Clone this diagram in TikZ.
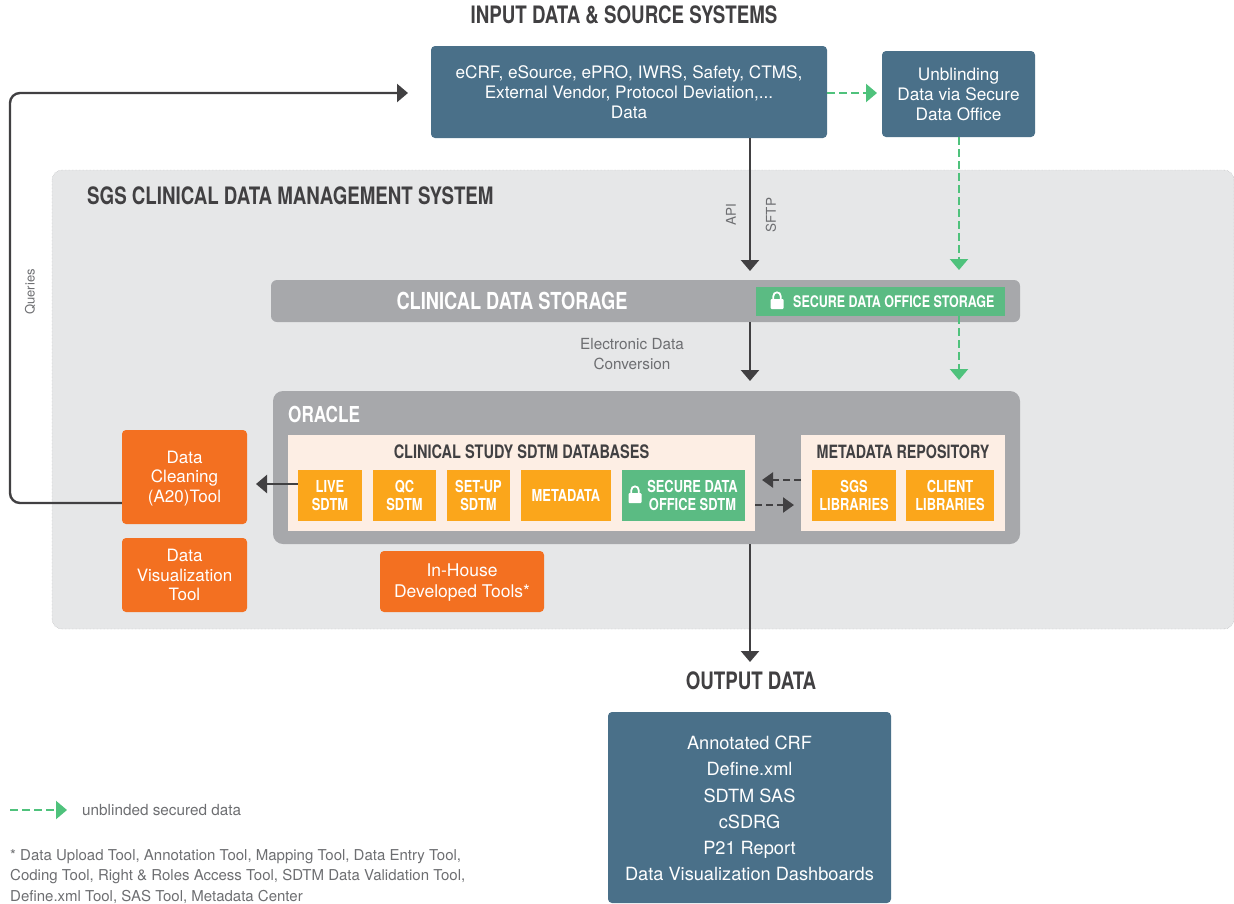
\documentclass[tikz,border=0pt]{standalone}
\usepackage{fontspec}
\setmainfont{TeX Gyre Heros}
\newfontfamily\condfont[FakeStretch=0.78]{TeX Gyre Heros}
\usetikzlibrary{arrows.meta, calc}
\definecolor{boxblue}{HTML}{4A7089}
\definecolor{tooloranje}{HTML}{F37021}
\definecolor{dbamber}{HTML}{FBA61B}
\definecolor{securegreen}{HTML}{5BBB83}
\definecolor{arrowgreen}{HTML}{4FC27C}
\definecolor{panelpeach}{HTML}{FDEEE4}
\definecolor{bandgrey}{HTML}{A7A8AB}
\definecolor{regiongrey}{HTML}{E6E7E8}
\definecolor{inkgrey}{HTML}{414042}
\definecolor{notegrey}{HTML}{6D6E71}
\tikzset{
  head/.style={font=\condfont\bfseries\fontsize{24}{26}\selectfont,text=inkgrey,inner sep=0pt},
  bluebox/.style={fill=boxblue,rounded corners=4pt,text=white,align=center,inner sep=0pt,font=\fontsize{17.2}{20}\selectfont},
  toolbox/.style={fill=tooloranje,rounded corners=4pt,text=white,align=center,inner sep=0pt,font=\fontsize{17}{19.5}\selectfont},
  dbbox/.style={fill=dbamber,text=white,align=center,inner sep=0pt,font=\condfont\bfseries\fontsize{16.5}{17.5}\selectfont},
  note/.style={text=notegrey,inner sep=0pt,font=\fontsize{15.3}{20}\selectfont},
  darkarrow/.style={draw=inkgrey,line width=2.4pt,-{Triangle[length=11pt,width=18pt]}},
  darkdash/.style={draw=inkgrey,line width=2.4pt,dash pattern=on 7pt off 4pt,-{Triangle[length=11pt,width=15pt]}},
  greenarrow/.style={draw=arrowgreen,line width=2.2pt,dash pattern=on 8pt off 4pt,-{Triangle[length=11pt,width=18pt]}},
  lockicon/.pic={
    \fill[white,rounded corners=1pt] (-6.5,-1) rectangle (6.5,9);
    \draw[white,line width=1.8pt] (-3.8,-1) -- (-3.8,-3.5) .. controls (-3.8,-9) and (3.8,-9) .. (3.8,-3.5) -- (3.8,-1);
  }
}
\begin{document}
\begin{tikzpicture}[x=1pt,y=-1pt]
  \useasboundingbox (0,0) rectangle (1234,903);
  % regions
  \path[fill=regiongrey,draw=bandgrey,densely dotted,rounded corners=10pt] (52,170) rectangle (1234,629);
  \node[head,anchor=west] (cdmstitle) at (87,196) {SGS CLINICAL DATA MANAGEMENT SYSTEM};
  \node[head] (inputtitle) at (624,15) {INPUT DATA \& SOURCE SYSTEMS};
  \node[head] (outputtitle) at (751,681) {OUTPUT DATA};
  % blue boxes
  \node[bluebox,minimum width=396pt,minimum height=92pt] (inputbox) at (629,92)
    {eCRF, eSource, ePRO, IWRS, Safety, CTMS,\\External Vendor, Protocol Deviation,...\\Data};
  \node[bluebox,minimum width=153pt,minimum height=86pt] (unblindbox) at (958.5,94)
    {Unblinding\\Data via Secure\\Data Office};
  \node[bluebox,minimum width=283pt,minimum height=191pt] (outputbox) at (749.5,807.5) {};
  \node[bluebox,fill=none,font=\fontsize{18.2}{26.3}\selectfont] (outputtext) at (749.5,808.5)
    {Annotated CRF\\Define.xml\\SDTM SAS\\cSDRG\\P21 Report\\Data Visualization Dashboards};
  % storage
  \node[fill=bandgrey,rounded corners=6pt,minimum width=749pt,minimum height=42pt] (storage) at (645.5,301) {};
  \node[head,text=white,font=\condfont\bfseries\fontsize{23.4}{26}\selectfont] (storagetitle) at (512,301) {CLINICAL DATA STORAGE};
  \node[fill=securegreen,minimum width=249pt,minimum height=29pt] (securestorage) at (880.5,301.5) {};
  \node[inner sep=0pt,text=white,font=\condfont\bfseries\fontsize{16}{18}\selectfont,anchor=west] (securestoragetext) at (793,301.5) {SECURE DATA OFFICE STORAGE};
  \pic at (777,300) {lockicon};
  % oracle
  \node[fill=bandgrey,rounded corners=10pt,minimum width=747pt,minimum height=153pt] (oracle) at (646.5,467.5) {};
  \node[head,text=white,anchor=west,font=\condfont\bfseries\fontsize{22}{25}\selectfont] (oracletitle) at (288,414) {ORACLE};
  \node[fill=panelpeach,minimum width=467pt,minimum height=96pt] (clinicalpanel) at (521.5,483) {};
  \node[fill=panelpeach,minimum width=204pt,minimum height=96pt] (metapanel) at (903,483) {};
  \node[head,font=\condfont\bfseries\fontsize{18.6}{21}\selectfont] (clinicaltitle) at (521.5,452) {CLINICAL STUDY SDTM DATABASES};
  \node[head,font=\condfont\bfseries\fontsize{18.3}{21}\selectfont] (metatitle) at (903,452) {METADATA REPOSITORY};
  \path[every node/.style={dbbox,minimum height=51pt}]
    (330,495.5) node[minimum width=64pt] (livedb) {LIVE\\SDTM}
    (404.5,495.5) node[minimum width=63pt] (qcdb) {QC\\SDTM}
    (478.5,495.5) node[minimum width=63pt] (setupdb) {SET-UP\\SDTM}
    (566,495.5) node[minimum width=90pt] (metadatadb) {METADATA}
    (854,495.5) node[minimum width=84pt] (sgsdb) {SGS\\LIBRARIES}
    (950,495.5) node[minimum width=88pt] (clientdb) {CLIENT\\LIBRARIES};
  \node[dbbox,fill=securegreen,minimum width=123pt,minimum height=51pt] (securedb) at (683.5,495.5) {};
  \node[dbbox,fill=none] (securedbtext) at (692.5,495.5) {SECURE DATA\\OFFICE SDTM};
  \pic at (635,494) {lockicon};
  % tools
  \node[toolbox,minimum width=125pt,minimum height=94pt] (cleantool) at (184.5,477) {};
  \node[toolbox,fill=none] (cleantext) at (184.5,478.5) {Data\\Cleaning\\(A20)Tool};
  \node[toolbox,minimum width=125pt,minimum height=74pt] (viztool) at (184.5,575) {Data\\Visualization\\Tool};
  \node[toolbox,minimum width=164pt,minimum height=61pt] (housetool) at (462,581.5) {};
  \node[toolbox,fill=none,font=\fontsize{17.5}{21}\selectfont] (housetext) at (462,583) {In-House\\Developed Tools*};
  % labels
  \node[note,rotate=90,font=\fontsize{13}{15}\selectfont] (querieslabel) at (30,292) {Queries};
  \node[note,rotate=90,font=\fontsize{13.5}{15}\selectfont] (apilabel) at (731,215) {API};
  \node[note,rotate=90,font=\fontsize{13.5}{15}\selectfont] (sftplabel) at (771,215) {SFTP};
  \node[note,align=center] (edclabel) at (632,354) {Electronic Data\\Conversion};
  \node[note,anchor=west] (legendlabel) at (82,810) {unblinded secured data};
  \node[note,anchor=north west,align=left,font=\fontsize{15}{20.5}\selectfont] (footnote) at (10,849) {* Data Upload Tool, Annotation Tool, Mapping Tool, Data Entry Tool,\\Coding Tool, Right \& Roles Access Tool, SDTM Data Validation Tool,\\Define.xml Tool, SAS Tool, Metadata Center};
  % free ends
  \coordinate (queryend) at (408,93);
  \coordinate (queryturn) at (10,503);
  \coordinate (apiend) at (750,271);
  \coordinate (edcend) at (750,381);
  \coordinate (outend) at (750,662);
  \coordinate (greenright) at (877,93);
  \coordinate (greentop) at (959,270);
  \coordinate (greenlow) at (959,380);
  \coordinate (legendstart) at (10,810);
  \coordinate (legendend) at (67,810);
  \coordinate (cleanend) at (256,484);
  % connectors
  \draw[darkarrow,rounded corners=10pt] (cleantool.west |- queryturn) -- (queryturn) -- (queryturn |- queryend) -- (queryend);
  \draw[darkarrow] (inputbox.south -| apiend) -- (apiend);
  \draw[darkarrow] (storage.south -| edcend) -- (edcend);
  \draw[darkarrow] (oracle.south -| outend) -- (outend);
  \draw[darkarrow] (livedb.west |- cleanend) -- (cleanend);
  \draw[darkdash] (metapanel.west |- 0,480) -- (762,480);
  \draw[darkdash] (clinicalpanel.east |- 0,505) -- (794,505);
  \draw[greenarrow] (inputbox.east |- greenright) -- (greenright);
  \draw[greenarrow] (unblindbox.south -| greentop) -- (greentop);
  \draw[greenarrow] (securestorage.south -| greenlow) -- (greenlow);
  \draw[greenarrow] (legendstart) -- (legendend);
\end{tikzpicture}
\end{document}
